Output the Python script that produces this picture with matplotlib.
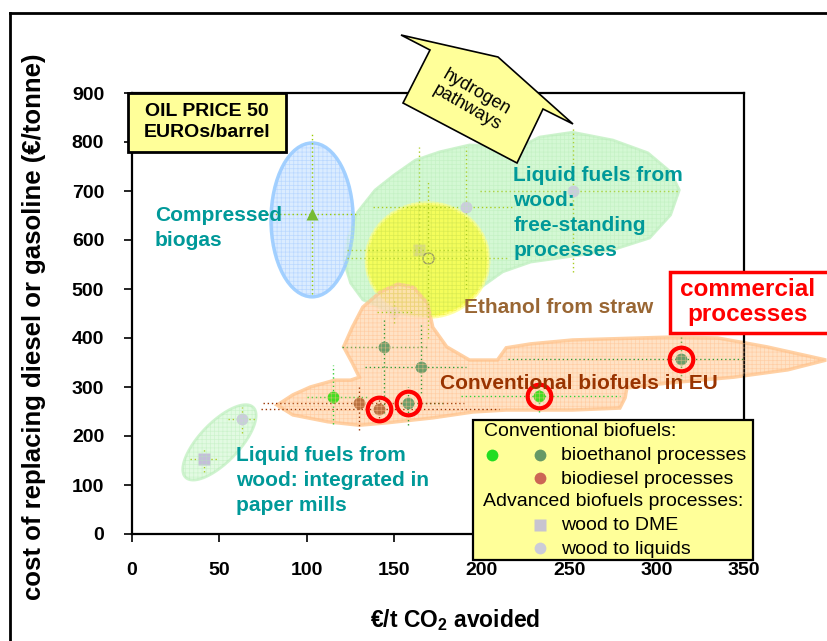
import matplotlib
matplotlib.use('Agg')
import matplotlib.pyplot as plt
import numpy as np
from matplotlib.patches import Polygon, Ellipse, Rectangle
from matplotlib.lines import Line2D

plt.rcParams['font.family'] = ['Liberation Sans', 'DejaVu Sans']
plt.rcParams['mathtext.fontset'] = 'custom'
plt.rcParams['mathtext.rm'] = 'Liberation Sans'
plt.rcParams['mathtext.bf'] = 'Liberation Sans:bold'
plt.rcParams['mathtext.default'] = 'bf'
plt.rcParams['hatch.linewidth'] = 0.5

# ---- data (x: EUR/t CO2 avoided, y: EUR/tonne) ----
# conventional bioethanol, light green
eth_light_x = [115, 233]
eth_light_y = [279, 282]
eth_light_xr = [(100, 135), (188, 279)]
eth_light_yr = [(225, 345), (250, 315)]

# conventional bioethanol, dark green
eth_dark_x = [144, 165, 158, 314]
eth_dark_y = [381, 340, 267, 358]
eth_dark_xr = [(120, 170), (133, 191), (151, 179), (215, 350)]
eth_dark_yr = [(247, 437), (288, 430), (222, 300), (314, 402)]

# biodiesel
diesel_x = [130, 141]
diesel_y = [267, 255]
diesel_xr = [(75, 190), (74, 210)]
diesel_yr = [(212, 300), (237, 280)]

# wood to DME
dme_x = [41, 164]
dme_y = [154, 580]
dme_xr = [(33, 49), (123, 200)]
dme_yr = [(127, 178), (540, 790)]

# wood to liquids
liq_x = [63, 191, 252, 150]
liq_y = [234, 667, 700, 453]
liq_xr = [(55, 71), (138, 218), (199, 312), (140, 160)]
liq_yr = [(206, 259), (500, 790), (535, 828), (430, 475)]

# open circle inside the yellow area
open_x = [169]
open_y = [563]
open_xr = [(123, 215)]
open_yr = [(400, 722)]

# compressed biogas
biogas_x = [103]
biogas_y = [653]
biogas_xr = [(77, 130)]
biogas_yr = [(490, 820)]

# commercial processes (red rings)
ring_x = [141, 158, 233, 314]
ring_y = [255, 267, 282, 358]

# shaded areas
free_x = [121, 123, 129, 139, 150, 162, 176, 193, 222, 233, 252, 275, 295, 308,
          313, 308, 296, 275, 256, 228, 212, 199, 186, 169, 148, 132, 125]
free_y = [559, 604, 657, 702, 733, 763, 780, 794, 790, 810, 820, 804, 778, 739,
          702, 651, 604, 580, 569, 555, 535, 502, 463, 443, 451, 478, 512]

conv_x = [83, 92, 102, 116, 125, 130, 126, 121, 126, 132, 142, 152, 161, 169,
          172, 180, 193, 209, 214, 228, 252, 309, 335, 363, 397, 375, 344, 306,
          283, 282, 279, 252, 214, 195, 172, 146, 130, 112, 92]
conv_y = [263, 284, 300, 314, 314, 320, 349, 382, 422, 463, 494, 510, 504, 471,
          422, 382, 355, 355, 380, 388, 396, 402, 400, 382, 355, 335, 320, 308,
          298, 278, 257, 253, 253, 249, 237, 227, 222, 229, 243]

biogas_ell = (103, 641, 47, 314)     # centre x, centre y, width, height
straw_ell = (169, 559, 70, 233)
mill_c = (50.0, 187.0)
mill_u = (19.4, 71.4)
mill_v = (8.0, -28.6)

W, H = 827, 641
fig = plt.figure(figsize=(W / 100, H / 100), dpi=100)
ax = fig.add_axes([132 / W, 1 - 534 / H, 612 / W, 441 / H])


def fx(px):
    return px / W


def fy(py):
    return 1 - py / H


def hatch_over(patch_pts, col, z):
    ax.add_patch(Polygon(patch_pts, closed=True, fill=False, hatch='++++',
                         edgecolor=col, lw=0, zorder=z, clip_on=False))


# areas
pts = np.column_stack([free_x, free_y])
ax.add_patch(Polygon(pts, closed=True, facecolor='#D0F8D0', edgecolor='#C8F2C8',
                     lw=2, alpha=0.9, zorder=1.6))
hatch_over(pts, (0.7, 0.92, 0.7, 0.45), 3.4)

e = Ellipse(straw_ell[:2], straw_ell[2], straw_ell[3], facecolor='#FFFF33',
            edgecolor='#FFFF88', lw=2.5, alpha=0.75, zorder=1.7)
ax.add_patch(e)
e = Ellipse(straw_ell[:2], straw_ell[2], straw_ell[3], fill=False, hatch='++++',
            edgecolor=(0.9, 0.9, 0.1, 0.5), lw=0, zorder=3.41)
ax.add_patch(e)

pts = np.column_stack([conv_x, conv_y])
ax.add_patch(Polygon(pts, closed=True, facecolor='#FFDDBB', edgecolor='#FFC995',
                     lw=2.5, alpha=0.85, zorder=1.8, clip_on=False))
hatch_over(pts, (1.0, 0.75, 0.55, 0.55), 3.5)

e = Ellipse(biogas_ell[:2], biogas_ell[2], biogas_ell[3], facecolor='#D8EAFF',
            edgecolor='#99CCFF', lw=2.5, alpha=0.9, zorder=1.9)
ax.add_patch(e)
e = Ellipse(biogas_ell[:2], biogas_ell[2], biogas_ell[3], fill=False, hatch='++++',
            edgecolor=(0.65, 0.8, 1.0, 0.6), lw=0, zorder=1.95)
ax.add_patch(e)

t = np.linspace(0, 2 * np.pi, 120)
mx = mill_c[0] + np.cos(t) * mill_u[0] + np.sin(t) * mill_v[0]
my = mill_c[1] + np.cos(t) * mill_u[1] + np.sin(t) * mill_v[1]
pts = np.column_stack([mx, my])
ax.add_patch(Polygon(pts, closed=True, facecolor='#DDFADD', edgecolor='#C8F2C8',
                     lw=2, alpha=0.85, zorder=1.6))
hatch_over(pts, (0.7, 0.92, 0.7, 0.45), 3.4)


# dotted range lines
def ranges(xs, ys, xr, yr, col, z=2.6):
    for x, y, (x0, x1), (y0, y1) in zip(xs, ys, xr, yr):
        ax.plot([x0, x1], [y, y], ls=(0, (1, 2)), color=col, lw=1, zorder=z, clip_on=False)
        ax.plot([x, x], [y0, y1], ls=(0, (1, 2)), color=col, lw=1, zorder=z, clip_on=False)


ranges(eth_light_x, eth_light_y, eth_light_xr, eth_light_yr, '#33CC33')
ranges(eth_dark_x, eth_dark_y, eth_dark_xr, eth_dark_yr, '#339933')
ranges(diesel_x, diesel_y, diesel_xr, diesel_yr, '#993300')
ranges(dme_x, dme_y, dme_xr, dme_yr, '#AACC22', 2.05)
ranges(liq_x, liq_y, liq_xr, liq_yr, '#AACC22', 2.05)
ranges(open_x, open_y, open_xr, open_yr, '#AACC22', 2.05)
ranges(biogas_x, biogas_y, biogas_xr, biogas_yr, '#99CC00', 2.6)

# points
ax.plot(dme_x[:1], dme_y[:1], 's', ms=8, color='#C4BEDA', mec='none', zorder=2.1)
ax.plot(dme_x[1:], dme_y[1:], 's', ms=8, color='#C8C0A0', mec='none', alpha=0.55, zorder=1.72)
ax.plot(liq_x[:3], liq_y[:3], 'o', ms=8.5, color='#CCCCDD', mec='none', zorder=2.1)
ax.plot(liq_x[3:], liq_y[3:], 'o', ms=8.5, color='#CCCCDD', mec='none', zorder=1.75)
ax.plot(open_x, open_y, 'o', ms=8, mfc='none', mec='#999966', mew=1, zorder=2.1)
ax.plot(biogas_x, biogas_y, '^', ms=9, color='#77BB33', mec='none', zorder=3)
ax.plot(eth_light_x, eth_light_y, 'o', ms=8.5, color='#44DD22', mec='none', zorder=3)
ax.plot(eth_dark_x, eth_dark_y, 'o', ms=8.5, color='#6A9E6A', mec='none', zorder=3)
ax.plot(diesel_x, diesel_y, 'o', ms=8.5, color='#B87040', mec='none', zorder=3)
ax.plot(ring_x, ring_y, 'o', ms=17, mfc='none', mec='#FF0000', mew=3, zorder=5)

# area labels
teal = '#009999'
ax.text(13, 670, 'Compressed\nbiogas', color=teal, fontsize=15, weight='bold',
        ha='left', va='top', linespacing=1.45, zorder=6)
ax.text(218, 752, 'Liquid fuels from\nwood:\nfree-standing\nprocesses', color=teal,
        fontsize=15, weight='bold', ha='left', va='top', linespacing=1.4, zorder=6)
ax.text(59.5, 180, 'Liquid fuels from\nwood: integrated in\npaper mills', color=teal,
        fontsize=15, weight='bold', ha='left', va='top', linespacing=1.4, zorder=6)
ax.text(190, 463, 'Ethanol from straw', color='#996633', fontsize=15, weight='bold',
        ha='left', va='center', zorder=6)
ax.text(176, 308, 'Conventional biofuels in EU', color='#993300', fontsize=15,
        weight='bold', ha='left', va='center', zorder=6)

# axes styling
ax.set_xlim(0, 350)
ax.set_ylim(0, 900)
ax.set_xticks(np.arange(0, 351, 50))
ax.set_yticks(np.arange(0, 901, 100))
for s in ax.spines.values():
    s.set_linewidth(1.6)
ax.tick_params(axis='both', direction='out', length=6, width=1.2, labelsize=14)
ax.tick_params(axis='x', pad=14)
ax.tick_params(axis='y', pad=14)
for lab in ax.get_xticklabels() + ax.get_yticklabels():
    lab.set_fontweight('bold')

fig.text(fx(34), fy(327), 'cost of replacing diesel or gasoline (€/tonne)', rotation=90,
         ha='center', va='center', fontsize=18.5, weight='bold')
fig.text(fx(455), fy(620), '€/t CO$_2$ avoided', ha='center', va='center',
         fontsize=16.5, weight='bold')

# outer frame
fig.add_artist(Line2D([fx(10), 1], [fy(13), fy(13)], color='black', lw=2))
fig.add_artist(Line2D([fx(10), fx(10)], [fy(13), 0], color='black', lw=2))

# oil price box
fig.add_artist(Rectangle((fx(128), fy(152)), fx(286) - fx(128), fy(93) - fy(152),
                         facecolor='#FFFF99', edgecolor='black', lw=2, zorder=4))
fig.text(fx(207), fy(122), 'OIL PRICE 50\nEUROs/barrel', ha='center', va='center',
         fontsize=14, weight='bold', linespacing=1.35, zorder=5)

# commercial processes box
fig.add_artist(Rectangle((fx(670), fy(333)), fx(840) - fx(670), fy(272) - fy(333),
                         facecolor='white', edgecolor='#FF0000', lw=2.5, zorder=4))
fig.text(fx(748), fy(302), 'commercial\nprocesses', ha='center', va='center', color='#FF0000',
         fontsize=17.5, weight='bold', linespacing=1.1, zorder=5)

# hydrogen pathways arrow
arrow_px = [(401, 35), (498, 57), (573, 124), (543, 109), (517, 163), (403, 103), (430, 50)]
fig.add_artist(Polygon([(fx(a), fy(b)) for a, b in arrow_px], closed=True,
                       facecolor='#FFFF99', edgecolor='black', lw=1.2, zorder=4))
fig.text(fx(472), fy(100), 'hydrogen\npathways', ha='center', va='center', rotation=-30,
         rotation_mode='anchor', fontsize=13, linespacing=1.1, zorder=5)

# legend box
fig.add_artist(Rectangle((fx(473), fy(560)), fx(753) - fx(473), fy(420) - fy(560),
                         facecolor='#FFFF99', edgecolor='black', lw=1.6, zorder=4))
leg_rows = [
    (484, 432, 'Conventional biofuels:'),
    (561, 455, 'bioethanol processes'),
    (561, 479, 'biodiesel processes'),
    (483, 502, 'Advanced biofuels processes:'),
    (561, 525, 'wood to DME'),
    (561, 549, 'wood to liquids'),
]
for a, b, s in leg_rows:
    fig.text(fx(a), fy(b), s, ha='left', va='center', fontsize=14, zorder=5)
leg_marks = [
    (492, 455, 'o', '#22DD22'),
    (540, 455, 'o', '#669966'),
    (540, 478, 'o', '#CC6655'),
    (540, 525, 's', '#C8C4D0'),
    (540, 548, 'o', '#CCCCD8'),
]
for a, b, m, c in leg_marks:
    fig.add_artist(Line2D([fx(a)], [fy(b)], marker=m, ms=8.5, color=c, mec='none', zorder=5))

fig.savefig('out.png', dpi=100)
